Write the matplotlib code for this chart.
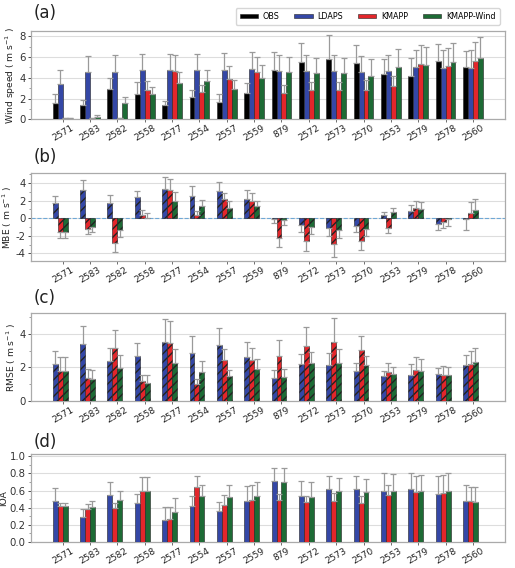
import numpy as np
import matplotlib
matplotlib.use("Agg")
import matplotlib.pyplot as plt
from matplotlib.ticker import AutoMinorLocator

stations = ["2571", "2583", "2582", "2558", "2577", "2554", "2557", "2559",
            "879", "2572", "2573", "2570", "2553", "2579", "2578", "2560"]

# (a) Wind speed mean and std
ws_obs = [1.6, 1.35, 2.9, 2.4, 1.4, 2.15, 1.7, 2.55, 4.73, 5.5, 5.82, 5.45, 4.35, 4.22, 5.63, 5.0]
ws_obs_sd = [0.8, 0.55, 1.05, 1.2, 0.35, 0.65, 0.7, 0.95, 1.77, 1.85, 2.28, 1.7, 1.45, 1.68, 1.62, 1.6]
ws_ldaps = [3.36, 4.55, 4.6, 4.77, 4.77, 4.77, 4.8, 4.83, 4.7, 4.7, 4.7, 4.57, 4.67, 5.0, 4.93, 4.93]
ws_ldaps_sd = [1.44, 1.55, 1.6, 1.58, 1.58, 1.58, 1.6, 1.62, 1.5, 1.55, 1.55, 1.53, 1.53, 1.7, 1.72, 1.72]
ws_kmapp = [0.1, 0.1, 0.1, 2.85, 4.67, 2.65, 3.9, 4.57, 2.5, 2.8, 2.8, 2.8, 3.2, 5.38, 5.1, 5.63]
ws_kmapp_sd = [0.05, 0.05, 0.05, 0.85, 1.53, 0.7, 1.2, 1.48, 0.85, 0.8, 0.8, 1.0, 1.0, 1.77, 1.75, 1.87]
ws_wind = [0.1, 0.25, 1.6, 2.45, 3.5, 3.65, 2.9, 3.95, 4.55, 4.45, 4.45, 4.2, 5.0, 5.25, 5.5, 5.95]
ws_wind_sd = [0.05, 0.2, 0.55, 0.7, 1.1, 1.1, 0.85, 1.3, 1.45, 1.45, 1.45, 1.6, 1.75, 1.7, 1.85, 2.0]

# (b) MBE
mbe_ldaps = [1.75, 3.15, 1.75, 2.35, 3.27, 2.55, 3.08, 2.17, -0.15, -0.75, -1.1, -0.87, 0.3, 0.76, -0.65, -0.07]
mbe_ldaps_sd = [0.8, 1.15, 0.87, 0.7, 1.43, 1.1, 1.0, 1.03, 0.45, 0.8, 0.95, 0.68, 0.45, 0.74, 0.65, 1.23]
mbe_kmapp = [-1.52, -1.25, -2.78, 0.4, 3.15, 0.4, 2.17, 1.95, -2.2, -2.62, -2.97, -2.62, -1.07, 1.15, -0.45, 0.57]
mbe_kmapp_sd = [0.78, 0.5, 1.07, 0.5, 1.35, 0.45, 0.68, 0.85, 1.05, 1.13, 1.48, 0.98, 0.6, 0.8, 0.7, 1.25]
mbe_wind = [-1.52, -1.0, -1.3, 0.05, 2.0, 1.4, 1.15, 1.37, -0.2, -0.95, -1.33, -1.2, 0.68, 1.0, -0.1, 0.87]
mbe_wind_sd = [0.78, 0.6, 0.8, 0.55, 1.0, 0.65, 0.75, 0.63, 0.6, 0.8, 0.92, 0.85, 0.52, 0.8, 0.75, 1.33]

# (c) RMSE
rmse_ldaps = [2.18, 3.38, 2.36, 2.67, 3.52, 2.85, 3.35, 2.61, 1.39, 2.2, 2.12, 1.78, 1.47, 1.58, 1.6, 2.12]
rmse_ldaps_sd = [0.82, 1.07, 0.79, 0.78, 1.38, 1.05, 0.99, 0.91, 0.43, 0.63, 0.77, 0.48, 0.31, 0.6, 0.36, 0.63]
rmse_kmapp = [1.8, 1.39, 3.19, 1.2, 3.47, 0.99, 2.42, 2.42, 2.69, 3.29, 3.54, 3.07, 1.7, 1.84, 1.58, 2.18]
rmse_kmapp_sd = [0.8, 0.51, 1.07, 0.38, 1.3, 0.3, 0.71, 0.75, 0.95, 1.15, 1.41, 0.83, 0.58, 0.76, 0.48, 0.79]
rmse_wind = [1.8, 1.33, 1.98, 1.1, 2.24, 1.74, 1.49, 1.88, 1.41, 2.24, 2.24, 2.12, 1.64, 1.76, 1.54, 2.34]
rmse_wind_sd = [0.8, 0.51, 0.79, 0.45, 0.89, 0.64, 0.37, 0.6, 0.49, 0.71, 0.87, 0.57, 0.4, 0.72, 0.5, 0.85]

# (d) IOA
ioa_ldaps = [0.48, 0.29, 0.545, 0.45, 0.26, 0.42, 0.36, 0.48, 0.71, 0.54, 0.62, 0.62, 0.60, 0.62, 0.56, 0.48]
ioa_ldaps_sd = [0.15, 0.10, 0.155, 0.11, 0.15, 0.12, 0.11, 0.17, 0.16, 0.17, 0.15, 0.15, 0.205, 0.19, 0.21, 0.18]
ioa_kmapp = [0.42, 0.39, 0.40, 0.60, 0.27, 0.645, 0.43, 0.49, 0.49, 0.47, 0.48, 0.46, 0.55, 0.58, 0.575, 0.475]
ioa_kmapp_sd = [0.03, 0.05, 0.05, 0.16, 0.14, 0.125, 0.12, 0.175, 0.07, 0.07, 0.09, 0.08, 0.11, 0.19, 0.205, 0.17]
ioa_wind = [0.42, 0.41, 0.49, 0.60, 0.35, 0.54, 0.53, 0.54, 0.70, 0.53, 0.60, 0.58, 0.59, 0.59, 0.595, 0.47]
ioa_wind_sd = [0.03, 0.07, 0.11, 0.16, 0.16, 0.125, 0.135, 0.16, 0.17, 0.17, 0.15, 0.155, 0.20, 0.19, 0.205, 0.175]

labels = ["OBS", "LDAPS", "KMAPP", "KMAPP-Wind"]
colors = ["#000000", "#3447a6", "#e3262b", "#1d6b35"]

plt.rcParams['font.family'] = ['DejaVu Sans']
plt.rcParams['axes.unicode_minus'] = False
fig = plt.figure(figsize=(5.15, 5.68), dpi=100)

x = np.arange(len(stations))
w = 0.18
L = 0.060
W = 0.920
H = 0.155
bottoms = [0.790, 0.540, 0.294, 0.046]
panel_y = [0.977, 0.724, 0.476, 0.222]
ylabels = ["Wind speed ( m s$^{-1}$ )", "MBE ( m s$^{-1}$ )", "RMSE ( m s$^{-1}$ )", "IOA"]
ylims = [(0, 8.5), (-4.9, 5.1), (0, 5.25), (0, 1.03)]
yticks = [[0, 2, 4, 6, 8], [-4, -2, 0, 2, 4], [0, 2, 4], [0.0, 0.2, 0.4, 0.6, 0.8, 1.0]]

panels = [
    [(ws_obs, ws_obs_sd), (ws_ldaps, ws_ldaps_sd), (ws_kmapp, ws_kmapp_sd), (ws_wind, ws_wind_sd)],
    [(mbe_ldaps, mbe_ldaps_sd), (mbe_kmapp, mbe_kmapp_sd), (mbe_wind, mbe_wind_sd)],
    [(rmse_ldaps, rmse_ldaps_sd), (rmse_kmapp, rmse_kmapp_sd), (rmse_wind, rmse_wind_sd)],
    [(ioa_ldaps, ioa_ldaps_sd), (ioa_kmapp, ioa_kmapp_sd), (ioa_wind, ioa_wind_sd)],
]
hatches = [None, "////", "////", None]

handles = []
for p in range(4):
    ax = fig.add_axes([L, bottoms[p], W, H])
    series = panels[p]
    cols = colors if p == 0 else colors[1:]
    for i, (vals, sd) in enumerate(series):
        vals = np.array(vals)
        sd = np.array(sd)
        lower = np.where(vals < 0, sd, 0)
        upper = np.where(vals >= 0, sd, 0)
        pos = x - 1.5 * w + i * w
        kw = dict(width=w, color=cols[i], edgecolor="#222222", linewidth=0.4,
                  yerr=[lower, upper],
                  error_kw=dict(ecolor="#9a9a9a", elinewidth=0.9, capsize=2.3, capthick=0.9),
                  zorder=3)
        if hatches[p]:
            kw["hatch"] = hatches[p]
        b = ax.bar(pos, vals, **kw)
        if p == 0:
            handles.append(b)
    if p == 1:
        ax.axhline(0, color="#6fa8d6", linestyle="--", linewidth=0.8, zorder=2)
    ax.set_xlim(-1.16, len(stations) - 1 + 1.16)
    ax.set_ylim(*ylims[p])
    ax.set_yticks(yticks[p])
    ax.yaxis.set_minor_locator(AutoMinorLocator(2))
    ax.grid(axis="y", color="#dddddd", linewidth=0.8, zorder=0)
    ax.set_axisbelow(True)
    ax.set_xticks(x)
    ax.set_xticklabels(stations, rotation=30, fontsize=6.6, color="#222222")
    ax.tick_params(axis="y", labelsize=7.3, length=2.5, width=0.6, pad=1.2, colors="#333333")
    ax.tick_params(axis="y", which="minor", length=1.5, width=0.5, colors="#777777")
    ax.tick_params(axis="x", length=2, width=0.6, colors="#555555", labelcolor="#222222", pad=1.0)
    ax.set_ylabel(ylabels[p], fontsize=6.6, color="#222222", labelpad=1.0)
    for s in ax.spines.values():
        s.set_color("#aaaaaa")
        s.set_linewidth(0.9)
    fig.text(0.065, panel_y[p], "(" + "abcd"[p] + ")", fontsize=12,
             ha="left", va="center", color="#222222")

fig.legend(handles, labels, loc="center right", bbox_to_anchor=(0.978, 0.971), ncol=4,
           fontsize=5.8, frameon=True, fancybox=True, edgecolor="#cccccc",
           handlelength=2.3, handleheight=0.5, columnspacing=1.8, borderpad=0.5,
           handletextpad=0.6)

fig.savefig("out.png", dpi=100)
